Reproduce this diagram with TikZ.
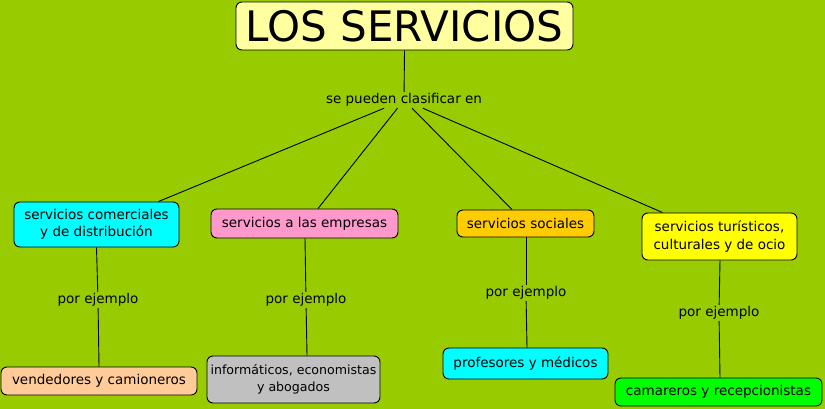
\documentclass[tikz,border=0pt]{standalone}
\usepackage{fontspec}
\setmainfont{DejaVu Sans}
\definecolor{bg}{HTML}{99CC00}
\definecolor{titlefill}{HTML}{FFFFA0}
\definecolor{cyanf}{HTML}{00FFFF}
\definecolor{pinkf}{HTML}{FF99CC}
\definecolor{orangef}{HTML}{FFCC00}
\definecolor{yellowf}{HTML}{FFFF00}
\definecolor{peachf}{HTML}{FFCC99}
\definecolor{grayf}{HTML}{C0C0C0}
\definecolor{greenf}{HTML}{00FF00}
\tikzset{
  concept/.style={draw=black, line width=0.9pt, rounded corners=6pt, inner sep=0pt,
    align=center, font=\fontsize{13.5}{17.5}\selectfont},
  linklabel/.style={fill=bg, inner sep=1.5pt, font=\fontsize{13.5}{16}\selectfont},
  conn/.style={draw=black, line width=0.9pt}
}
\begin{document}
\begin{tikzpicture}[x=1pt,y=-1pt]
\fill[bg] (0,0) rectangle (825,409);
\useasboundingbox (0,0) rectangle (825,409);
% title
\node[concept, fill=titlefill, minimum width=337pt, minimum height=48pt,
  font=\fontsize{42}{44}\selectfont] (t) at (404.5,26) {LOS SERVICIOS};
\node[linklabel] (lab) at (404,100) {se pueden clasificar en};
% level 1
\node[concept, fill=cyanf, minimum width=165pt, minimum height=45pt] (b1) at (96.5,224.5) {servicios comerciales\\y de distribución};
\node[concept, fill=pinkf, minimum width=187pt, minimum height=29pt] (b2) at (304.5,223.5) {servicios a las empresas};
\node[concept, fill=orangef, minimum width=137pt, minimum height=27pt] (b3) at (525.5,223.5) {servicios sociales};
\node[concept, fill=yellowf, minimum width=155pt, minimum height=47pt] (b4) at (719.5,236.5) {servicios turísticos,\\culturales y de ocio};
% por ejemplo labels
\node[linklabel] (p1) at (98,300) {por ejemplo};
\node[linklabel] (p2) at (306,300) {por ejemplo};
\node[linklabel] (p3) at (526,293) {por ejemplo};
\node[linklabel] (p4) at (719,313) {por ejemplo};
% level 2
\node[concept, fill=peachf, minimum width=196pt, minimum height=28pt] (c1) at (99,381) {vendedores y camioneros};
\node[concept, fill=grayf, minimum width=173pt, minimum height=47pt, font=\fontsize{12.6}{17.5}\selectfont] (c2) at (293.5,379.5) {informáticos, economistas\\y abogados};
\node[concept, fill=cyanf, minimum width=165pt, minimum height=31pt] (c3) at (525.5,363.5) {profesores y médicos};
\node[concept, fill=greenf, minimum width=207pt, minimum height=28pt] (c4) at (718.5,392) {camareros y recepcionistas};
% connectors
\draw[conn] (t.south) -- (lab);
\draw[conn] (lab) -- ([xshift=-21pt]b1.north east);
\draw[conn] (lab) -- ([xshift=13.5pt]b2.north);
\draw[conn] (lab) -- ([xshift=-13.5pt]b3.north);
\draw[conn] (lab) -- ([xshift=21pt]b4.north west);
\draw[conn] (b1.south) -- (p1);
\draw[conn] (p1) -- (c1.north);
\draw[conn] ([xshift=0.5pt]b2.south) -- (p2);
\draw[conn] (p2) -- ([xshift=13.5pt]c2.north);
\draw[conn] ([xshift=0.5pt]b3.south) -- (p3);
\draw[conn] (p3) -- ([xshift=1.5pt]c3.north);
\draw[conn] ([xshift=0.5pt]b4.south) -- (p4);
\draw[conn] (p4) -- ([xshift=1.5pt]c4.north);
\end{tikzpicture}
\end{document}
